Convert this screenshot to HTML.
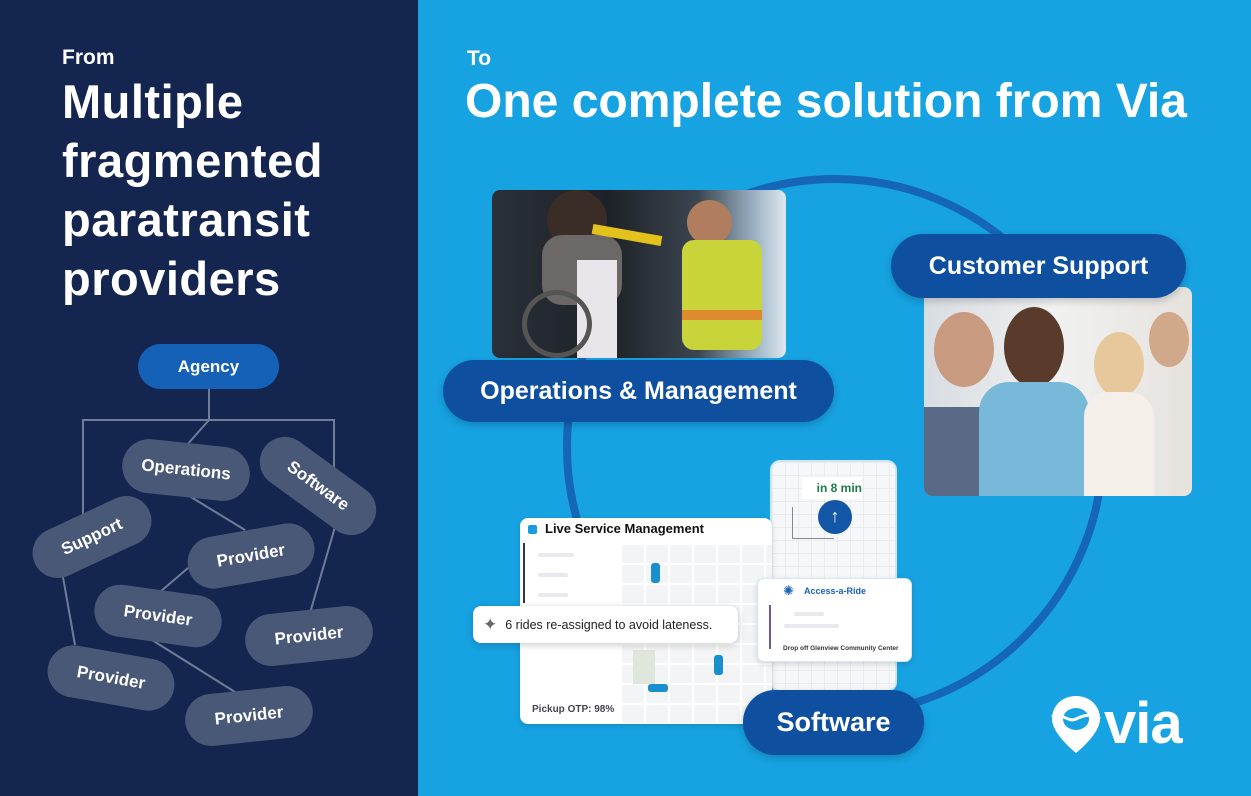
<!DOCTYPE html>
<html><head><meta charset="utf-8"><style>
*{margin:0;padding:0;box-sizing:border-box}
body{width:1251px;height:796px;overflow:hidden;position:relative;font-family:"Liberation Sans",sans-serif;background:#16a0e0}
.abs{position:absolute}
#left{left:0;top:0;width:418px;height:796px;background:#14254f}
#right{left:418px;top:0;width:833px;height:796px;background:#17a2e2}
.w{color:#fff;font-weight:bold}
.pill{position:absolute;background:#4a5878;color:#fff;border-radius:27px;display:flex;align-items:center;justify-content:center;font-size:17px;font-weight:bold}
.bp{position:absolute;background:#0f4fa0;color:#fff;border-radius:32px;display:flex;align-items:center;justify-content:center;font-weight:bold;box-shadow:0 3px 8px rgba(0,0,0,.2)}
.gl{background:#e7e9ec;height:4px;border-radius:2px;position:absolute}
</style></head><body>
<div id="left" class="abs"></div>
<div id="right" class="abs"></div>

<div class="abs w" style="left:62px;top:46px;font-size:21px">From</div>
<div class="abs w" style="left:62px;top:72px;font-size:47px;line-height:59px;letter-spacing:.5px">Multiple<br>fragmented<br>paratransit<br>providers</div>

<svg class="abs" style="left:0;top:0" width="418" height="796">
<g stroke="#6f7d99" stroke-width="2" fill="none">
<path d="M209 389V420M83 515V420H334V470M209 420L186 446"/>
<path d="M186 494L245 530M188 568L160 592M335 527L310 613M63 577L75 645M152 640L243 697"/>
</g></svg>
<div class="abs" style="left:138px;top:344px;width:141px;height:45px;border-radius:23px;background:#1561b8;color:#fff;font-size:17px;font-weight:bold;display:flex;align-items:center;justify-content:center">Agency</div>
<div class="pill" style="left:122px;top:443px;width:128px;height:54px;transform:rotate(6deg)">Operations</div>
<div class="pill" style="left:252px;top:461px;width:132px;height:50px;transform:rotate(36deg)">Software</div>
<div class="pill" style="left:29px;top:512px;width:126px;height:50px;transform:rotate(-25deg)">Support</div>
<div class="pill" style="left:187px;top:530px;width:128px;height:52px;transform:rotate(-10deg)">Provider</div>
<div class="pill" style="left:94px;top:590px;width:128px;height:52px;transform:rotate(8deg)">Provider</div>
<div class="pill" style="left:245px;top:610px;width:128px;height:52px;transform:rotate(-6deg)">Provider</div>
<div class="pill" style="left:47px;top:652px;width:128px;height:52px;transform:rotate(10deg)">Provider</div>
<div class="pill" style="left:185px;top:690px;width:128px;height:52px;transform:rotate(-6deg)">Provider</div>

<div class="abs w" style="left:467px;top:47px;font-size:21px">To</div>
<div class="abs w" style="left:465px;top:74px;font-size:48px;white-space:nowrap">One complete solution from Via</div>

<svg class="abs" style="left:0;top:0" width="1251" height="796">
<circle cx="835" cy="447" r="268" stroke="#1566b6" stroke-width="8" fill="none"/>
</svg>

<!-- ops photo -->
<div class="abs" style="left:492px;top:190px;width:294px;height:168px;border-radius:8px;overflow:hidden;background:linear-gradient(90deg,#2a3038 0%,#1e2228 40%,#3b4550 70%,#9fb6c8 90%,#dfe8ef 100%)">
 <div class="abs" style="left:55px;top:0;width:60px;height:60px;border-radius:50%;background:#3a2c26"></div>
 <div class="abs" style="left:50px;top:45px;width:80px;height:70px;border-radius:20px;background:#6b6867"></div>
 <div class="abs" style="left:85px;top:70px;width:40px;height:100px;background:#e8e6ea"></div>
 <div class="abs" style="left:30px;top:100px;width:70px;height:68px;border-radius:50%;border:5px solid #555"></div>
 <div class="abs" style="left:195px;top:10px;width:45px;height:45px;border-radius:50%;background:#b07d5e"></div>
 <div class="abs" style="left:190px;top:50px;width:80px;height:110px;border-radius:12px;background:#c8d43a"></div>
 <div class="abs" style="left:190px;top:120px;width:80px;height:10px;background:#e08a30"></div>
 <div class="abs" style="left:100px;top:40px;width:70px;height:10px;background:#e4c21c;transform:rotate(10deg)"></div>
</div>
<div class="bp" style="left:443px;top:360px;width:391px;height:62px;font-size:25px">Operations &amp; Management</div>

<!-- customer photo -->
<div class="abs" style="left:924px;top:287px;width:268px;height:209px;border-radius:8px;overflow:hidden;background:linear-gradient(90deg,#d8dde3,#f0f1f0 50%,#e6e2de)">
 <div class="abs" style="left:0;top:120px;width:80px;height:95px;background:#5a6a86"></div>
 <div class="abs" style="left:10px;top:25px;width:60px;height:75px;border-radius:50%;background:#c89a80"></div>
 <div class="abs" style="left:80px;top:20px;width:60px;height:80px;border-radius:50%;background:#5a3a2a"></div>
 <div class="abs" style="left:55px;top:95px;width:110px;height:120px;border-radius:30px 30px 0 0;background:#78b8d8"></div>
 <div class="abs" style="left:170px;top:45px;width:50px;height:65px;border-radius:50%;background:#e6c89c"></div>
 <div class="abs" style="left:160px;top:105px;width:70px;height:110px;border-radius:25px 25px 0 0;background:#f4efe8"></div>
 <div class="abs" style="left:225px;top:25px;width:40px;height:55px;border-radius:50%;background:#d0a88a"></div>
</div>
<div class="bp" style="left:891px;top:234px;width:295px;height:64px;font-size:25px">Customer Support</div>

<!-- phone -->
<div class="abs" style="left:770px;top:460px;width:127px;height:232px;border-radius:10px;background:#f6f7f8;border:2px solid #cfe6f4;overflow:hidden;background-image:linear-gradient(#e9ebee 1px,transparent 1px),linear-gradient(90deg,#e9ebee 1px,transparent 1px);background-size:13px 13px">
 <div class="abs" style="left:30px;top:15px;width:60px;height:22px;background:#fff;font-size:12px;color:#1d7a45;font-weight:bold;text-align:right;padding-top:4px">in 8 min</div>
 <div class="abs" style="left:46px;top:38px;width:34px;height:34px;border-radius:50%;background:#1356a6;color:#fff;font-size:18px;text-align:center;line-height:32px;font-weight:bold">↑</div>
 <div class="abs" style="left:20px;top:45px;width:42px;height:32px;border-left:1px solid #888;border-bottom:1px solid #888"></div>
</div>

<!-- LSM card -->
<div class="abs" style="left:520px;top:518px;width:252px;height:206px;border-radius:8px;background:#fff;box-shadow:0 2px 6px rgba(0,0,0,.15);overflow:hidden">
 <div class="abs" style="left:100px;top:25px;width:152px;height:181px;background:#f3f4f5;background-image:linear-gradient(#fff 2px,transparent 2px),linear-gradient(90deg,#fff 2px,transparent 2px);background-size:24px 20px"></div>
 <div class="abs" style="left:8px;top:7px;width:9px;height:9px;background:#1a9be0;border-radius:2px"></div>
 <div class="abs" style="left:25px;top:3px;font-size:13px;font-weight:bold;color:#111">Live Service Management</div>
 <div class="gl" style="left:18px;top:35px;width:36px"></div>
 <div class="gl" style="left:18px;top:55px;width:30px"></div>
 <div class="gl" style="left:18px;top:75px;width:30px"></div>
 <div class="abs" style="left:3px;top:25px;width:2px;height:60px;background:#334"></div>
 <div class="abs" style="left:131px;top:45px;width:9px;height:20px;border-radius:3px;background:#1a8fd0"></div>
 <div class="abs" style="left:194px;top:137px;width:9px;height:20px;border-radius:3px;background:#1a8fd0"></div>
 <div class="abs" style="left:128px;top:166px;width:20px;height:8px;border-radius:3px;background:#1a8fd0"></div>
 <div class="abs" style="left:113px;top:132px;width:22px;height:34px;background:#dfe6dc"></div>
 <div class="abs" style="left:12px;top:186px;font-size:10px;font-weight:bold;color:#445">Pickup OTP: 98%</div>
</div>
<!-- toast -->
<div class="abs" style="left:473px;top:606px;width:265px;height:37px;border-radius:8px;background:#fff;box-shadow:0 2px 8px rgba(0,0,0,.2);font-size:12.5px;color:#222;display:flex;align-items:center;padding-left:10px"><span style="font-size:17px;color:#666;margin-right:8px">✦</span>6 rides re-assigned to avoid lateness.</div>
<!-- access a ride card -->
<div class="abs" style="left:757px;top:578px;width:155px;height:84px;border-radius:7px;background:#fff;box-shadow:0 2px 6px rgba(0,0,0,.15);border:1px solid #d6e8f4">
 <div class="abs" style="left:25px;top:4px;font-size:13px;color:#1a62b5">✺</div>
 <div class="abs" style="left:46px;top:7px;font-size:9px;font-weight:bold;color:#1a62b5">Access-a-Ride</div>
 <div class="abs" style="left:11px;top:26px;width:2px;height:44px;background:#6a5a9a"></div>
 <div class="gl" style="left:36px;top:33px;width:30px"></div>
 <div class="gl" style="left:26px;top:45px;width:55px"></div>
 <div class="abs" style="left:25px;top:66px;font-size:6.5px;font-weight:bold;color:#333;white-space:nowrap">Drop off Glenview Community Center</div>
</div>
<div class="bp" style="left:743px;top:690px;width:181px;height:65px;font-size:27px">Software</div>

<!-- via logo -->
<svg class="abs" style="left:1048px;top:690px" width="150" height="66">
 <path d="M28 6C14 6 4 16 4 29c0 15 24 34 24 34s24-19 24-34C52 16 42 6 28 6z" fill="#fff"/>
 <ellipse cx="28" cy="29" rx="13" ry="11" fill="#17a2e2"/>
 <path d="M4 27c8-6 16 6 24 2s16-6 24 0" stroke="#fff" stroke-width="3" fill="none"/>
 <text x="56" y="53" font-family="Liberation Sans" font-size="58" font-weight="bold" fill="#fff" letter-spacing="-1">via</text>
</svg>
</body></html>
